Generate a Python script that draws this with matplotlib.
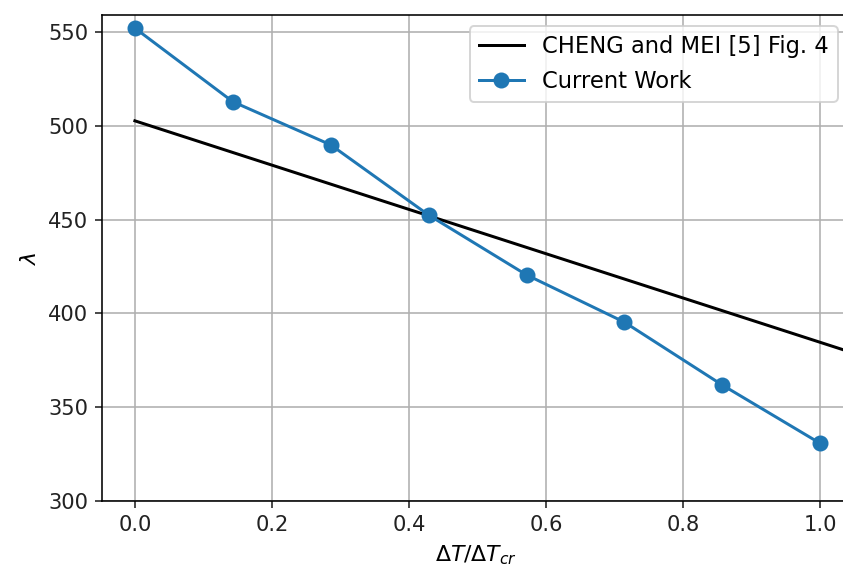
import matplotlib
matplotlib.use('Agg')
import matplotlib.pyplot as plt
import numpy as np

# donnees
cheng_x = [0.0, 1.042]
cheng_y = [502.6, 379.6]

work_x = [0, 1/7, 2/7, 3/7, 4/7, 5/7, 6/7, 1.0]
work_y = [552.0, 512.8, 489.8, 452.4, 420.5, 395.3, 361.8, 330.7]

fig = plt.figure(figsize=(843/144, 572/144), dpi=144)
ax = fig.add_axes([102/843, 1 - 501/572, (849 - 102)/843, (501 - 15)/572])

ax.plot(cheng_x, cheng_y, color="black", label="CHENG and MEI [5] Fig. 4")
ax.plot(work_x, work_y, color="#1f77b4", marker="o", markersize=7, label="Current Work")

ax.set_xlim(-0.048, 1.042)
ax.set_ylim(300, 559)
ax.set_yticks([300, 350, 400, 450, 500, 550])
ax.set_xticks([0.0, 0.2, 0.4, 0.6, 0.8, 1.0])
ax.tick_params(labelsize=10.5, colors="#222222")

ax.set_xlabel(r"$\Delta T/\Delta T_{cr}$", fontsize=11)
ax.set_ylabel(r"$\lambda$", fontsize=11)

ax.grid()
ax.legend(loc="upper right", fontsize=11.3)

fig.savefig("out.png", dpi=144)
